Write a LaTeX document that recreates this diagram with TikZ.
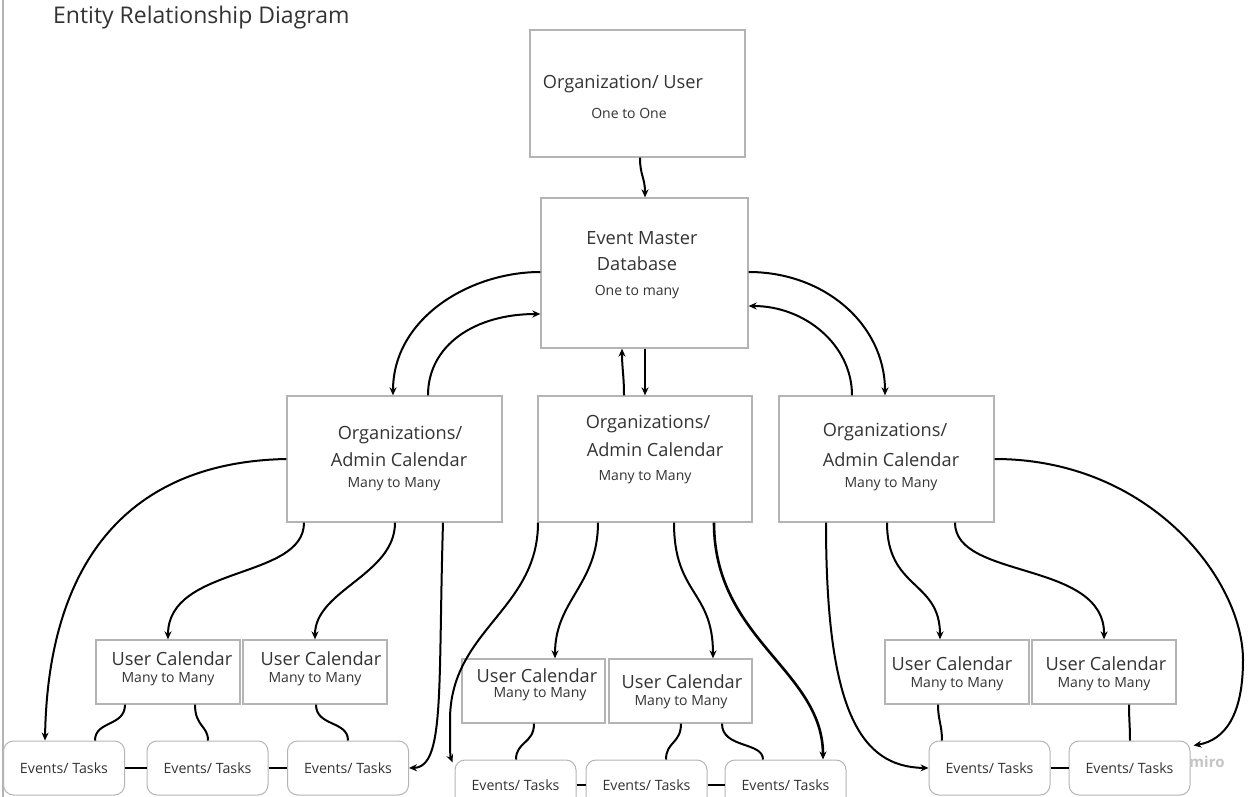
\documentclass[tikz,border=0pt]{standalone}
\usepackage{fontspec}
\setmainfont{Open Sans}
\usetikzlibrary{arrows.meta}
\definecolor{boxline}{HTML}{B4B4B4}
\definecolor{txt}{HTML}{333333}
\definecolor{wm}{HTML}{C4C4C4}
\begin{document}
\begin{tikzpicture}[x=1pt,y=-1pt,
  box/.style={draw=boxline,line width=1.3pt,fill=white,inner sep=0pt},
  evbox/.style={draw=boxline,line width=1pt,fill=white,rounded corners=10pt,inner sep=0pt,minimum width=121pt,minimum height=54pt,text=txt,font=\fontsize{14.2}{16}\selectfont},
  evtxt/.style={text=txt,inner sep=0pt,font=\fontsize{14.2}{16}\selectfont},
  big/.style={text=txt,inner sep=0pt,font=\fontsize{18.2}{21}\selectfont},
  small/.style={text=txt,inner sep=0pt,font=\fontsize{14}{16}\selectfont},
  conn/.style={line width=2pt,black},
  arr/.style={conn,-{Stealth[length=8pt,width=7pt]}}
]
\useasboundingbox (0,0) rectangle (1254,797);
\begin{scope}
\clip (0,0) rectangle (1254,797);
\draw[boxline,line width=1.2pt] (3,0) -- (3,797);

% title
\node[anchor=west,text=txt,inner sep=0pt,font=\fontsize{23}{27}\selectfont] (title) at (53,18) {Entity Relationship Diagram};

% boxes
\node[box,minimum width=215pt,minimum height=127pt] (ou) at (637.5,93.5) {};
\node[box,minimum width=207pt,minimum height=150pt] (em) at (644.5,273) {};
\node[box,minimum width=215pt,minimum height=126pt] (a1) at (394.5,459) {};
\node[box,minimum width=214pt,minimum height=126pt] (a2) at (645,459) {};
\node[box,minimum width=215pt,minimum height=126pt] (a3) at (886.5,459) {};
\node[box,minimum width=144pt,minimum height=64pt] (u1) at (168,672) {};
\node[box,minimum width=144pt,minimum height=64pt] (u2) at (315,672) {};
\node[box,minimum width=143pt,minimum height=64pt] (u3) at (533.5,691) {};
\node[box,minimum width=143pt,minimum height=64pt] (u4) at (680.5,691) {};
\node[box,minimum width=144pt,minimum height=64pt] (u5) at (957,672) {};
\node[box,minimum width=144pt,minimum height=64pt] (u6) at (1104,672) {};

\node[evbox] (e1) at (64,768) {Events/ Tasks};
\node[evbox] (e2) at (207.5,768) {Events/ Tasks};
\node[evbox] (e3) at (348,768) {Events/ Tasks};
\node[evbox] (e4) at (515.5,787) {};
\node[evbox] (e5) at (646.5,787) {};
\node[evbox] (e6) at (785.5,787) {};
\node[evbox] (e7) at (989.5,768) {Events/ Tasks};
\node[evbox] (e8) at (1129.5,768) {Events/ Tasks};
\node[evtxt] (e4t) at (515.5,785) {Events/ Tasks};
\node[evtxt] (e5t) at (646.5,785) {Events/ Tasks};
\node[evtxt] (e6t) at (785.5,785) {Events/ Tasks};

% texts
\node[big] (out1) at (623,84) {Organization/ User};
\node[small] (out2) at (629,113) {One to One};
\node[big] (emt1) at (642,238) {Event Master};
\node[big] (emt2) at (637,264) {Database};
\node[small] (emt3) at (637,292) {One to many};
\node[big] (a1t1) at (400,435) {Organizations/};
\node[big] (a1t2) at (399,460) {Admin Calendar};
\node[small] (a1t3) at (394,484) {Many to Many};
\node[big] (a2t1) at (648,424) {Organizations/};
\node[big] (a2t2) at (655,450) {Admin Calendar};
\node[small] (a2t3) at (645,477) {Many to Many};
\node[big] (a3t1) at (885,432) {Organizations/};
\node[big] (a3t2) at (891,460) {Admin Calendar};
\node[small] (a3t3) at (891,484) {Many to Many};
\node[big] (u1t1) at (172,659) {User Calendar};
\node[small] (u1t2) at (168,679) {Many to Many};
\node[big] (u2t1) at (321,659) {User Calendar};
\node[small] (u2t2) at (315,679) {Many to Many};
\node[big] (u3t1) at (537,676) {User Calendar};
\node[small] (u3t2) at (540,694) {Many to Many};
\node[big] (u4t1) at (682,682) {User Calendar};
\node[small] (u4t2) at (681,702) {Many to Many};
\node[big] (u5t1) at (952,664) {User Calendar};
\node[small] (u5t2) at (957,684) {Many to Many};
\node[big] (u6t1) at (1106,664) {User Calendar};
\node[small] (u6t2) at (1104,684) {Many to Many};
\node[text=wm,inner sep=0pt,font=\fontsize{15}{17}\selectfont\bfseries] (miro) at (1207,762) {miro};

% connectors top
\draw[arr] ([xshift=2.5pt]ou.south) .. controls +(0,18) and +(0,-20) .. ([xshift=0.5pt]em.north);
\draw[arr] ([yshift=1pt]em.west) .. controls (470,272) and (393,318) .. ([xshift=-1.5pt]a1.north);
\draw[arr] ([xshift=33.5pt]a1.north) .. controls (428,345) and (475,314) .. ([yshift=-41pt]em.west);
\draw[arr] ([xshift=-21pt]a2.north) .. controls +(0,-20) and +(0,20) .. ([xshift=-22.5pt]em.south);
\draw[arr] ([xshift=0.5pt]em.south) -- (a2.north);
\draw[arr] ([yshift=1pt]em.east) .. controls (825,272) and (885,325) .. ([xshift=-1.5pt]a3.north);
\draw[arr] ([xshift=-34.5pt]a3.north) .. controls (852,345) and (805,306) .. ([yshift=-33pt]em.east);

% admin 1
\draw[arr] (a1.west) .. controls (130,462) and (48,560) .. ([xshift=-19pt]e1.north);
\draw[arr] ([xshift=-90.5pt]a1.south) .. controls (304,580) and (168,565) .. (u1.north);
\draw[arr] ([xshift=0.5pt]a1.south) .. controls (395,575) and (315,590) .. (u2.north);
\draw[arr] ([xshift=48.5pt]a1.south) .. controls (438,690) and (445,767) .. (e3.east);

% admin 2
\draw[arr] ([xshift=-107pt]a2.south) .. controls (538,610) and (450,630) .. (450,720) .. controls (450,745) and (450,756) .. ([shift={(-2pt,-3pt)}]e4.north west);
\draw[arr] ([xshift=-47pt]a2.south) .. controls (598,585) and (555,600) .. ([xshift=21.5pt]u3.north);
\draw[arr] ([xshift=29pt]a2.south) .. controls (674,595) and (713,590) .. ([xshift=32.5pt]u4.north);
\draw[arr,line width=2.6pt] ([xshift=69pt]a2.south) .. controls (714,640) and (823,670) .. ([xshift=37.5pt]e6.north);

% admin 3
\draw[arr] ([xshift=-60.5pt]a3.south) .. controls (826,710) and (860,767) .. (e7.west);
\draw[arr] ([xshift=0.5pt]a3.south) .. controls (887,590) and (940,580) .. ([xshift=-17pt]u5.north);
\draw[arr] ([xshift=68.5pt]a3.south) .. controls (955,580) and (1105,560) .. (u6.north);
\draw[arr] (a3.east) .. controls (1150,459) and (1243,580) .. (1243,660) .. controls (1243,715) and (1225,740) .. ([shift={(3pt,-5pt)}]e8.north east);

% user calendars to events
\draw[conn] ([xshift=-43pt]u1.south) .. controls +(0,22) and +(0,-20) .. ([xshift=31pt]e1.north);
\draw[conn] ([xshift=27pt]u1.south) .. controls +(0,22) and +(0,-15) .. ([xshift=0.5pt]e2.north);
\draw[conn] ([xshift=1pt]u2.south) .. controls +(0,22) and +(0,-20) .. (e3.north);
\draw[conn] ([xshift=0.5pt]u3.south) .. controls +(0,20) and +(0,-18) .. ([xshift=0.5pt]e4.north);
\draw[conn] ([xshift=0.5pt]u4.south) .. controls +(0,20) and +(0,-18) .. ([xshift=19.5pt]e5.north);
\draw[conn] ([xshift=41.5pt]u4.south) .. controls +(0,25) and +(0,-18) .. ([xshift=-22.5pt]e6.north);
\draw[conn] ([xshift=-19pt]u5.south) .. controls +(0,15) and +(0,-15) .. ([xshift=-47.5pt]e7.north);
\draw[conn] ([xshift=25pt]u6.south) .. controls +(0,15) and +(0,-15) .. ([xshift=0.5pt]e8.north);

% events chain
\draw[line width=2.6pt] (e1.east) -- (e2.west);
\draw[line width=2.6pt] (e2.east) -- (e3.west);
\draw[line width=2.6pt] ([yshift=2pt]e4.east) -- ([yshift=2pt]e5.west);
\draw[line width=2.6pt] ([yshift=2pt]e5.east) -- ([yshift=2pt]e6.west);
\draw[line width=2.6pt] (e7.east) -- (e8.west);
\end{scope}
\end{tikzpicture}
\end{document}
